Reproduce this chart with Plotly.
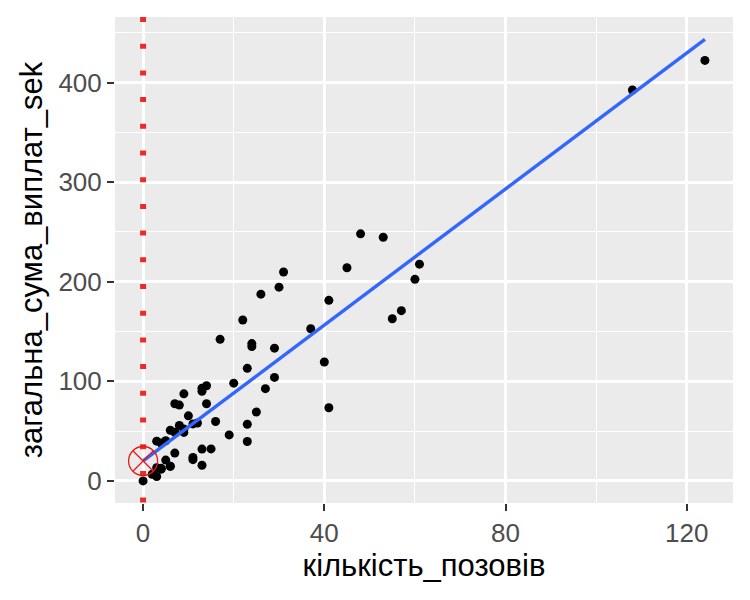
import plotly.graph_objects as go
import numpy as np

# кількість позовів / загальна сума виплат (тис. SEK)
claims = [108, 19, 13, 124, 40, 57, 23, 14, 45, 10, 5, 48, 11, 23, 7, 2, 24, 6, 3, 23,
          6, 9, 9, 3, 29, 7, 4, 20, 7, 4, 0, 25, 6, 5, 22, 11, 61, 12, 4, 16, 13, 60,
          41, 37, 55, 41, 11, 27, 8, 3, 17, 13, 13, 15, 8, 29, 30, 24, 9, 31, 14, 53, 26]
payments = [392.5, 46.2, 15.7, 422.2, 119.4, 170.9, 56.9, 77.5, 214.0, 65.3, 20.9, 248.1,
            23.5, 39.6, 48.8, 6.6, 134.9, 50.9, 4.4, 113.0, 14.8, 48.7, 52.1, 13.2, 103.9,
            77.5, 11.8, 98.1, 27.9, 38.1, 0.0, 69.2, 14.6, 40.3, 161.5, 57.2, 217.6, 58.1,
            12.6, 59.6, 89.9, 202.4, 181.3, 152.8, 162.8, 73.4, 21.3, 92.6, 76.1, 39.9,
            142.1, 93.0, 31.9, 32.1, 55.6, 133.3, 194.5, 137.9, 87.4, 209.8, 95.5, 244.6,
            187.5]

x = np.array(claims, dtype=float)
y = np.array(payments, dtype=float)
slope, intercept = np.polyfit(x, y, 1)
fit_x = np.array([x.min(), x.max()])
fit_y = intercept + slope * fit_x

fig = go.Figure()

# red dotted vertical line at x = 0
fig.add_trace(go.Scatter(
    x=[0, 0], y=[465.8, -22.2], mode='lines',
    line=dict(color='#ee2a24', width=6, dash='5px,21.7px'),
    hoverinfo='skip', showlegend=False
))

fig.add_trace(go.Scatter(
    x=x, y=y, mode='markers',
    marker=dict(color='black', size=9),
    showlegend=False
))

fig.add_trace(go.Scatter(
    x=fit_x, y=fit_y, mode='lines',
    line=dict(color='#3366FF', width=3.4),
    showlegend=False
))

# intercept marker
fig.add_trace(go.Scatter(
    x=[0], y=[intercept], mode='markers',
    marker=dict(symbol='circle-x-open', color='#e41a1c', size=29,
                line=dict(width=1.3, color='#e41a1c')),
    showlegend=False
))

axis_common = dict(
    showgrid=True, gridcolor='white', gridwidth=2.6,
    zeroline=False, showline=False, automargin=False,
    ticks='outside', ticklen=7, tickwidth=2, tickcolor='#333333',
    tickfont=dict(family='Liberation Sans', size=26, color='#4d4d4d'),
    title_font=dict(family='Liberation Sans', size=31, color='black'),
)

fig.update_layout(
    width=750, height=600,
    paper_bgcolor='white', plot_bgcolor='#ebebeb',
    margin=dict(l=107, r=25, t=9, b=105),
    xaxis=dict(
        axis_common,
        range=[-6.2, 130.2], tick0=0, dtick=40,
        minor=dict(dtick=20, showgrid=True, gridcolor='white', gridwidth=1.3, ticks=''),
        title=dict(text='кількість_позовів', standoff=6),
    ),
    yaxis=dict(
        axis_common,
        range=[-22.2, 465.8], tick0=0, dtick=100,
        minor=dict(dtick=50, showgrid=True, gridcolor='white', gridwidth=1.3, ticks=''),
        title=dict(text='загальна_сума_виплат_sek', standoff=6),
    ),
)

fig.write_html("out.html")
